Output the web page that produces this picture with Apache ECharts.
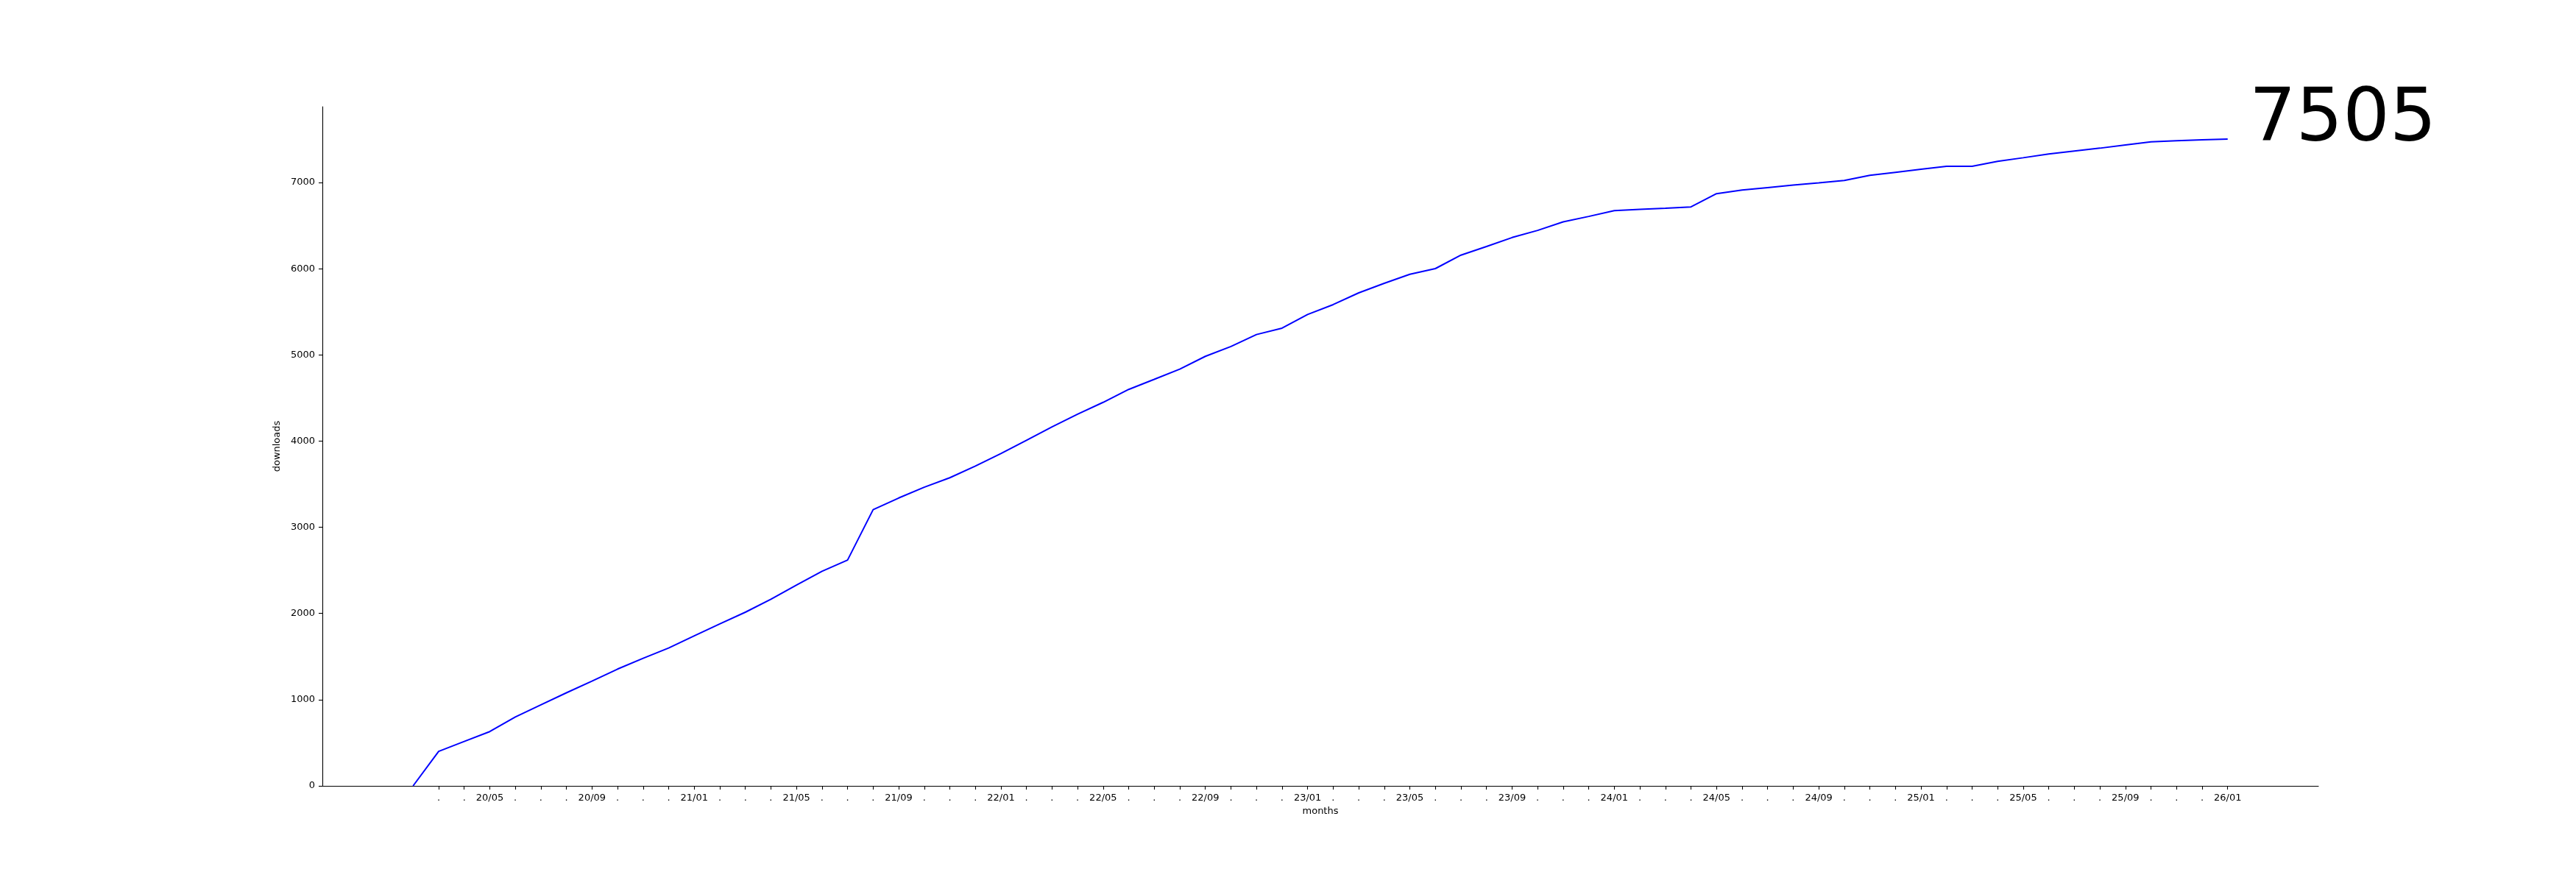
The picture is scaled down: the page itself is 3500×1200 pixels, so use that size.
<!DOCTYPE html>
<html>
<head>
<meta charset="utf-8">
<script src="https://cdn.jsdelivr.net/npm/echarts@6/dist/echarts.min.js"></script>
<style>
  html, body { margin: 0; padding: 0; background: #fff; }
  #chart { width: 3500px; height: 1200px; }
</style>
</head>
<body>
<div id="chart"></div>
<script>
// months from 20/02 to 26/01
const months = [
  '20/02','20/03','20/04','20/05','20/06','20/07','20/08','20/09','20/10','20/11','20/12',
  '21/01','21/02','21/03','21/04','21/05','21/06','21/07','21/08','21/09','21/10','21/11','21/12',
  '22/01','22/02','22/03','22/04','22/05','22/06','22/07','22/08','22/09','22/10','22/11','22/12',
  '23/01','23/02','23/03','23/04','23/05','23/06','23/07','23/08','23/09','23/10','23/11','23/12',
  '24/01','24/02','24/03','24/04','24/05','24/06','24/07','24/08','24/09','24/10','24/11','24/12',
  '25/01','25/02','25/03','25/04','25/05','25/06','25/07','25/08','25/09','25/10','25/11','25/12',
  '26/01'
]

// cumulative downloads
const downloads = [
  0, 400, 515, 630, 800, 940, 1080, 1215, 1355, 1480, 1600,
  1740, 1880, 2015, 2165, 2330, 2490, 2620, 3205, 3340, 3465, 3575, 3710,
  3855, 4010, 4165, 4313, 4450, 4600, 4717, 4836, 4984, 5098, 5237, 5311,
  5470, 5584, 5720, 5831, 5936, 6002, 6158, 6258, 6362, 6445, 6544, 6607,
  6675, 6689, 6703, 6718, 6871, 6914, 6942, 6970, 6996, 7025, 7084, 7119,
  7154, 7189, 7189, 7246, 7288, 7331, 7365, 7399, 7436, 7473, 7485, 7496,
  7505
]

const yTicks = [0, 1000, 2000, 3000, 4000, 5000, 6000, 7000]

// every 4th month gets its name, the others a dot; first month has no tick
const tickIdx = months.map((m, i) => i).slice(1)
const tickLabels = months.map((m, i) => ((i + 1) % 4 === 0 ? m : '.'))

const total = downloads[downloads.length - 1]
const pad = (downloads.length - 1) * 0.05

const myChart = echarts.init(document.getElementById('chart'))

const option = {
  backgroundColor: '#fff',
  animation: false,
  textStyle: { fontFamily: 'DejaVu Sans' },
  grid: { left: 438, top: 145, width: 2712, bottom: 132 },
  xAxis: {
    type: 'value',
    min: -pad,
    max: months.length - 1 + pad,
    name: 'months',
    nameLocation: 'middle',
    nameGap: 27,
    nameTextStyle: { fontSize: 13, color: '#000', fontFamily: 'DejaVu Sans' },
    axisLine: { onZero: false, lineStyle: { color: '#000', width: 1.1 } },
    axisTick: { length: 5, lineStyle: { color: '#000', width: 1.1 }, customValues: tickIdx },
    axisLabel: {
      customValues: tickIdx,
      margin: 10,
      fontSize: 13,
      color: '#000',
      formatter: v => tickLabels[Math.round(v)]
    },
    splitLine: { show: false }
  },
  yAxis: {
    type: 'value',
    min: 0,
    max: total * 1.05,
    name: 'downloads',
    nameLocation: 'middle',
    nameGap: 55,
    nameTextStyle: { fontSize: 13, color: '#000', fontFamily: 'DejaVu Sans' },
    axisLine: { show: true, onZero: false, lineStyle: { color: '#000', width: 1.1 } },
    axisTick: { show: true, length: 5, lineStyle: { color: '#000', width: 1.1 }, customValues: yTicks },
    axisLabel: {
      customValues: yTicks,
      margin: 10,
      fontSize: 13,
      color: '#000',
      formatter: v => String(Math.round(v))
    },
    splitLine: { show: false }
  },
  graphic: [{
    type: 'text',
    left: 3056,
    top: 115,
    style: {
      text: String(total),
      fontSize: 100,
      fontFamily: 'DejaVu Sans',
      fill: '#000'
    }
  }],
  series: [{
    type: 'line',
    data: downloads.map((v, i) => [i, v]),
    showSymbol: false,
    lineStyle: { color: '#0000ff', width: 2 },
    itemStyle: { color: '#0000ff' }
  }]
}

myChart.setOption(option)
</script>
</body>
</html>
